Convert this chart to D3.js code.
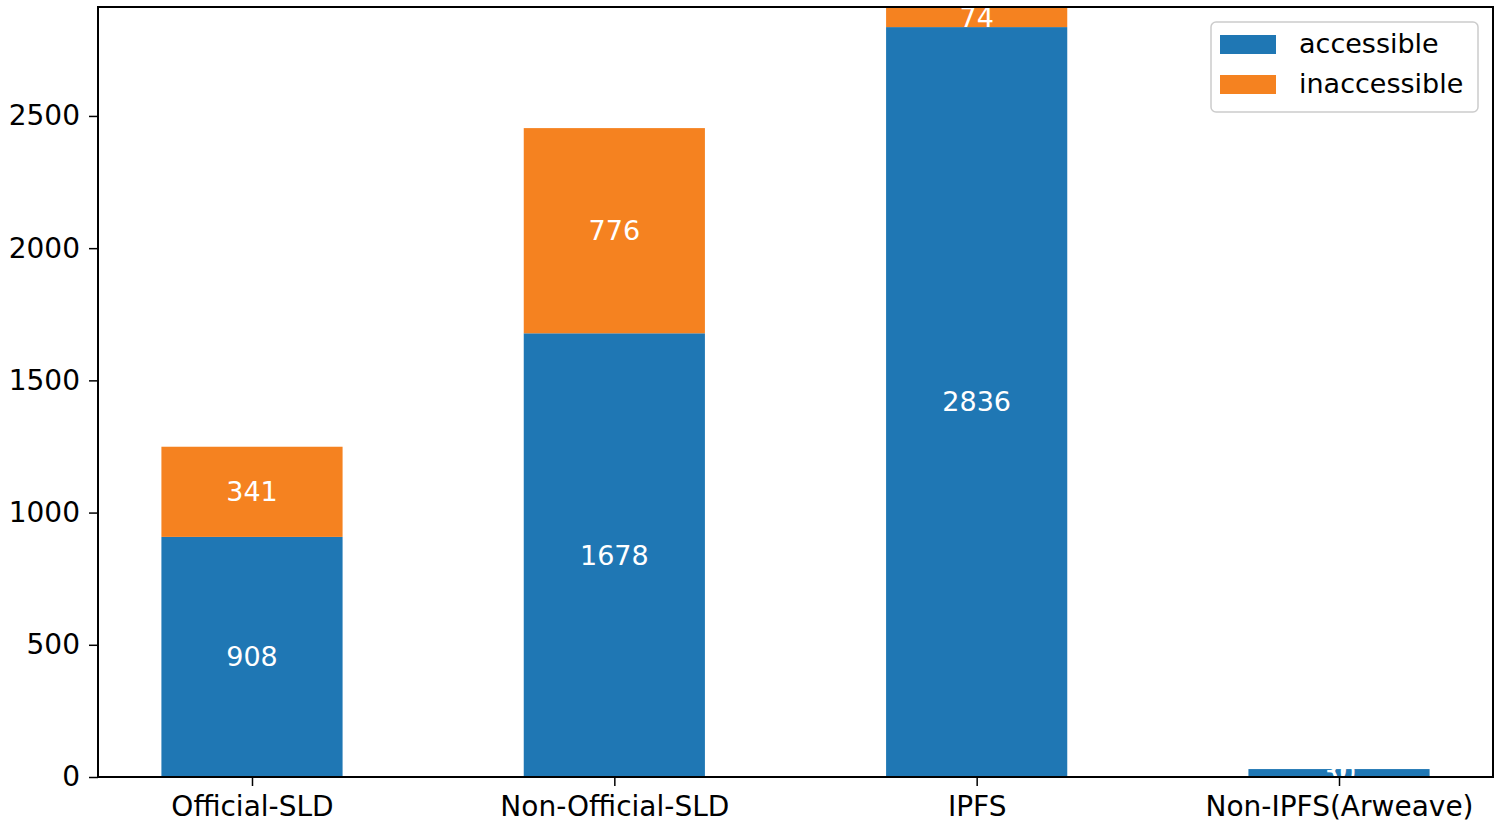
<!DOCTYPE html>
<html><head><meta charset="utf-8">
<script src="https://cdn.jsdelivr.net/npm/d3@7"></script>
<style>body{margin:0;background:#fff}svg{display:block}text{font-family:"DejaVu Sans",sans-serif}</style>
</head><body>
<svg id="c" width="1500" height="831"></svg>
<script>
const categories = ["Official-SLD","Non-Official-SLD","IPFS","Non-IPFS(Arweave)"];
const accessible = [908,1678,2836,30];
const inaccessible = [341,776,74,0];
const yTicks = [0,500,1000,1500,2000,2500];
const seriesNames = ["accessible","inaccessible"];
const colors = ["#1f77b4","#f58220"];

const svg = d3.select("#c");
const L=98,R=1493,T=7,B=777;
const x = d3.scaleLinear().domain([-0.425,3.425]).range([L,R]);
const y = d3.scaleLinear().domain([0,2912]).range([B,T]);
const bw = 0.5;

const g = svg.append("g");
categories.forEach((c,i)=>{
  const a=accessible[i], n=inaccessible[i];
  g.append("rect").attr("x",x(i-bw/2)).attr("width",x(i+bw/2)-x(i-bw/2))
   .attr("y",y(a)).attr("height",y(0)-y(a)).attr("fill",colors[0]);
  g.append("rect").attr("x",x(i-bw/2)).attr("width",x(i+bw/2)-x(i-bw/2))
   .attr("y",y(a+n)).attr("height",y(a)-y(a+n)).attr("fill",colors[1]);
  g.append("text").attr("x",x(i)).attr("y",y(a/2)).attr("dy","0.35em")
   .attr("text-anchor","middle").attr("fill","#fff").attr("font-size",27).text(a);
  g.append("text").attr("x",x(i)).attr("y",y(a+n/2)).attr("dy","0.35em")
   .attr("text-anchor","middle").attr("fill","#fff").attr("font-size",27).text(n);
});

const yAxis = d3.axisLeft(y).tickValues(yTicks).tickSize(9).tickPadding(9).tickFormat(d3.format("d"));
const ya = svg.append("g").attr("transform",`translate(${L},0)`).call(yAxis);
ya.select(".domain").remove();
ya.selectAll("text").attr("font-size",28).attr("fill","#000").attr("font-family","DejaVu Sans");
ya.selectAll("line").attr("stroke","#000").attr("stroke-width",1.5);

const xAxis = d3.axisBottom(x).tickValues(d3.range(categories.length)).tickSize(9).tickPadding(10).tickFormat(i=>categories[i]);
const xa = svg.append("g").attr("transform",`translate(0,${B})`).call(xAxis);
xa.select(".domain").remove();
xa.selectAll("text").attr("font-size",28).attr("fill","#000").attr("font-family","DejaVu Sans");
xa.selectAll("line").attr("stroke","#000").attr("stroke-width",1.5);

svg.append("rect").attr("x",L).attr("y",T).attr("width",R-L).attr("height",B-T)
  .attr("fill","none").attr("stroke","#000").attr("stroke-width",2);

const lg = svg.append("g");
lg.append("rect").attr("x",1211).attr("y",22).attr("width",267).attr("height",90).attr("rx",5)
  .attr("fill","#fff").attr("fill-opacity",0.8).attr("stroke","#ccc").attr("stroke-width",1.5);
seriesNames.forEach((s,i)=>{
  lg.append("rect").attr("x",1220).attr("y",35+i*40).attr("width",56).attr("height",19).attr("fill",colors[i]);
  lg.append("text").attr("x",1299).attr("y",44+i*40).attr("dy","0.35em").attr("font-size",27).attr("fill","#000").text(s);
});
</script>
</body></html>
